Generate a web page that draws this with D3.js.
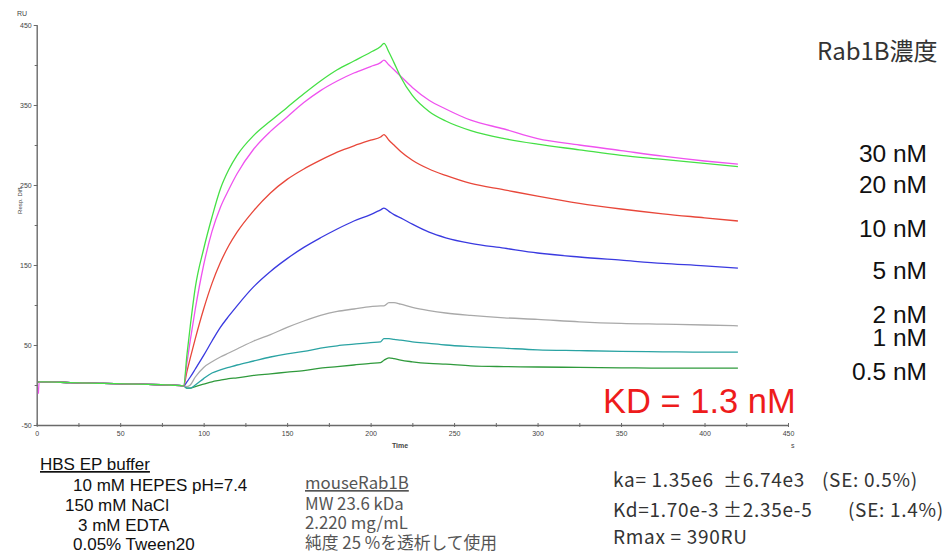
<!DOCTYPE html>
<html lang="ja">
<head>
<meta charset="utf-8">
<title>Rab1B SPR sensorgram</title>
<script src="https://d3js.org/d3.v7.min.js"></script>
<style>
    body { margin: 0; background: #fff; }
    svg { display: block; }
    .axis text { font-family: "Liberation Sans", Arial, sans-serif; font-size: 7px; fill: #444; }
    .axis path, .axis line { stroke: #6a6a6a; }
    .jp { font-family: "Noto Sans CJK JP", "Noto Sans", sans-serif; }
    .en { font-family: "Liberation Sans", Arial, sans-serif; }
</style>
</head>
<body>
<div id="chart"></div>
<script>
    // time grid (s) shared by all curves
    const times = [1, 1.5, 5, 20, 40, 60, 80, 88, 90, 92, 95, 100, 105, 110, 115, 120, 130, 140, 150, 160, 170, 180, 190, 200, 206, 208, 211, 214, 218, 225, 235, 245, 260, 280, 300, 325, 350, 375, 400, 420];

    // response (RU)
    const nM30  = [3, 4, 4, 3, 2, 1, 0, -1, 38, 74, 122, 170, 210, 245, 269, 287, 312, 330, 347, 364, 380, 394, 405, 416, 423, 427, 416, 403, 385, 362, 342, 330, 318, 308, 301, 294, 287, 282, 277, 273];
    const nM20  = [-11, 4, 4, 3, 2, 1, 0, -1, 28, 56, 95, 150, 192, 222, 244, 264, 295, 317, 335, 353, 368, 380, 390, 398, 403, 406, 400, 394, 386, 372, 356, 345, 331, 320, 308, 300, 293, 286, 280, 276];
    const nM10  = [3, 4, 4, 3, 2, 1, 0, -1, 17, 34, 58, 95, 127, 153, 174, 191, 218, 240, 257, 270, 281, 291, 299, 306, 310, 313, 306, 300, 292, 281, 270, 262, 252, 244, 236, 227, 220, 214, 209, 205];
    const nM5   = [3, 4, 4, 3, 2, 1, 0, -1, 4, 10, 20, 37, 55, 72, 86, 99, 123, 142, 158, 172, 184, 195, 205, 213, 219, 221, 217, 213, 209, 201, 191, 184, 177, 171, 165, 160, 156, 152, 149, 146];
    const nM2   = [3, 4, 4, 3, 2, 1, 0, -1, -2, 0, 10, 22, 29, 35, 40, 45, 55, 63, 72, 80, 87, 92, 95, 98, 99, 99, 103, 103, 101, 97, 93, 90, 87, 84, 82, 79, 77, 76, 75, 74];
    const nM1   = [3, 4, 4, 3, 2, 1, 0, -1, -4, -4, 0, 8, 15, 19, 22, 25, 30, 35, 39, 42, 46, 49, 51, 53, 54, 58, 58, 57, 56, 54, 52, 50, 48, 46, 44, 43, 42, 41.5, 41, 41];
    const nM05  = [3, 4, 4, 3, 2, 1, 0, -1, -4, -4, -2, 1, 4, 6, 8, 9, 12, 14, 16, 18, 21, 23, 25, 27, 28, 31, 34, 33, 31, 29, 27, 26, 24, 23, 22.5, 22, 21.5, 21, 21, 21];

    const seriesNames  = ["0.5 nM", "1 nM", "2 nM", "5 nM", "10 nM", "20 nM", "30 nM"];
    const seriesValues = [nM05, nM1, nM2, nM5, nM10, nM20, nM30];
    const seriesColors = ["#2f9a3c", "#2aa3a3", "#a9a9a9", "#3a3ae0", "#e8473a", "#ef52ef", "#45e045"];

    const xTicks = d3.range(0, 451, 25);
    const yTicks = d3.range(-50, 451, 50);

    // label column on the right
    const concLabels = ["30 nM", "20 nM", "10 nM", "5 nM", "2 nM", "1 nM", "0.5 nM"];
    const concLabelY = [162, 193, 237, 279, 323, 346, 380];

    const width = 945, height = 553;
    const svg = d3.select("#chart").append("svg")
        .attr("width", width).attr("height", height);

    const x = d3.scaleLinear().domain([0, 450]).range([36.7, 788]);
    const y = d3.scaleLinear().domain([-50, 450]).range([425, 25]);

    // axes
    const gx = svg.append("g").attr("class", "axis")
        .attr("transform", `translate(0,${y(-50)})`)
        .call(d3.axisBottom(x).tickValues(xTicks).tickSizeOuter(0)
            .tickFormat(d => d % 50 === 0 ? d : ""));
    gx.select(".domain").attr("stroke-width", 1.4);
    gx.selectAll(".tick line").attr("y1", -2).attr("y2", 2);
    gx.selectAll(".tick text").attr("y", 6);

    const gy = svg.append("g").attr("class", "axis")
        .attr("transform", `translate(${x(0)},0)`)
        .call(d3.axisLeft(y).tickValues(yTicks).tickSizeOuter(0)
            .tickFormat(d => Math.abs(d % 100) === 50 ? d : ""));
    gy.select(".domain").attr("stroke-width", 1.4);
    gy.selectAll(".tick line").attr("x1", 1).attr("x2", d => Math.abs(d % 100) === 50 ? -3 : -2);
    gy.selectAll(".tick text").attr("x", -5);

    svg.append("text").attr("class", "en").attr("x", 17).attr("y", 16)
        .attr("font-size", 7).attr("fill", "#444").text("RU");
    svg.append("text").attr("class", "en")
        .attr("transform", "translate(22,200) rotate(-90)")
        .attr("text-anchor", "middle").attr("font-size", 6).attr("fill", "#444").text("Resp. Diff.");
    svg.append("text").attr("class", "en").attr("x", 400).attr("y", 448)
        .attr("text-anchor", "middle").attr("font-size", 7).attr("font-weight", "bold").attr("fill", "#444").text("Time");
    svg.append("text").attr("class", "en").attr("x", 791).attr("y", 448)
        .attr("font-size", 7).attr("fill", "#444").text("s");

    // curves
    const line = d3.line()
        .x((d, i) => x(times[i]))
        .y(d => y(d))
        .curve(d3.curveMonotoneX);

    svg.append("g")
        .attr("fill", "none")
        .attr("stroke-width", 1.3)
        .attr("stroke-linejoin", "round")
        .selectAll("path")
        .data(seriesValues)
        .join("path")
        .attr("stroke", (d, i) => seriesColors[i])
        .attr("d", d => line(d));

    // right hand labels
    svg.append("text").attr("class", "jp").attr("x", 817).attr("y", 60)
        .attr("font-size", 24).attr("fill", "#333").text("Rab1B濃度");

    svg.append("g").selectAll("text")
        .data(concLabels)
        .join("text")
        .attr("class", "en")
        .attr("x", 927)
        .attr("y", (d, i) => concLabelY[i])
        .attr("text-anchor", "end")
        .attr("font-size", 24.5)
        .attr("fill", "#111")
        .text(d => d);

    svg.append("text").attr("class", "en").attr("x", 603).attr("y", 413)
        .attr("font-size", 34.5).attr("fill", "#ee1c1c").text("KD = 1.3 nM");

    // buffer notes
    const bufferLines = ["10 mM HEPES pH=7.4", "150 mM NaCl", "3 mM EDTA", "0.05% Tween20"];
    const bufferX = [73, 65, 78, 73];
    svg.append("text").attr("class", "en").attr("x", 40).attr("y", 470)
        .attr("font-size", 17).attr("fill", "#111").attr("text-decoration", "underline").text("HBS EP buffer");
    svg.append("g").selectAll("text")
        .data(bufferLines)
        .join("text")
        .attr("class", "en")
        .attr("x", (d, i) => bufferX[i])
        .attr("y", (d, i) => 491 + i * 19.8)
        .attr("font-size", 17)
        .attr("fill", "#111")
        .text(d => d);

    // protein notes
    const proteinLines = ["MW 23.6 kDa", "2.220 mg/mL", "純度 25 %を透析して使用"];
    svg.append("text").attr("class", "jp").attr("x", 305).attr("y", 489)
        .attr("font-size", 16.8).attr("fill", "#555").attr("text-decoration", "underline").text("mouseRab1B");
    svg.append("g").selectAll("text")
        .data(proteinLines)
        .join("text")
        .attr("class", "jp")
        .attr("x", 305)
        .attr("y", (d, i) => 509.5 + i * 19.5)
        .attr("font-size", 16.8)
        .attr("fill", "#555")
        .text(d => d);

    // fit results
    const fitText = [
        ["ka= 1.35e6", "±6.74e3", "(SE: 0.5%)"],
        ["Kd=1.70e-3", "±2.35e-5", "(SE: 1.4%)"],
        ["Rmax = 390RU", "", ""]
    ];
    const fitX = [[613, 723, 822], [613, 723, 848], [613, 0, 0]];
    const fitY = [487, 517, 543.5];
    fitText.forEach((row, r) => {
        row.forEach((t, c) => {
            if (!t) return;
            svg.append("text").attr("class", "jp")
                .attr("x", fitX[r][c]).attr("y", fitY[r])
                .attr("font-size", 19).attr("letter-spacing", 0.7)
                .attr("fill", "#333").text(t);
        });
    });
</script>
</body>
</html>
